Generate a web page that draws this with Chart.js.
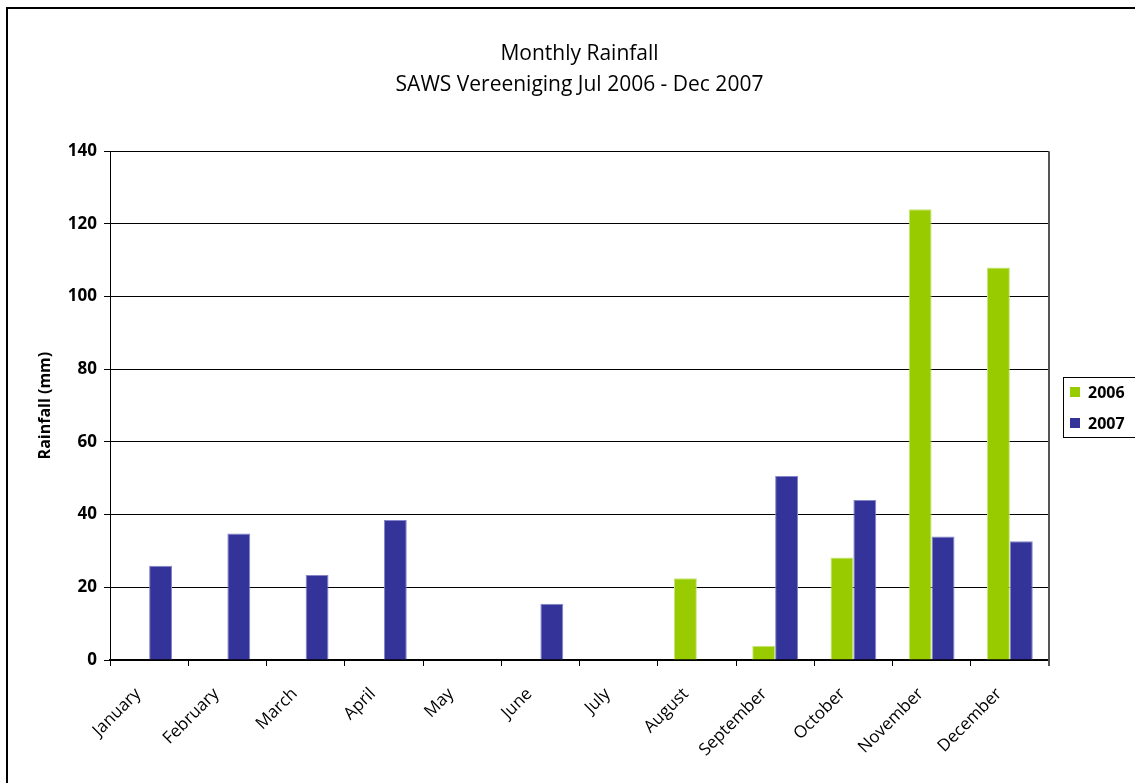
<!DOCTYPE html>
<html>
<head>
<meta charset="utf-8">
<script src="https://cdn.jsdelivr.net/npm/chart.js@4/dist/chart.umd.min.js"></script>
<style>
    html, body { margin: 0; padding: 0; background: #fff; }
    body { width: 1135px; height: 783px; position: relative; overflow: hidden; }
    #frame { position: absolute; left: 6px; top: 7px; width: 1140px; height: 800px; border: 2px solid #000; box-sizing: border-box; }
    #wrap { position: absolute; left: 0; top: 0; width: 1135px; height: 783px; }
</style>
</head>
<body>
<div id="frame"></div>
<div id="wrap"><canvas id="grafico"></canvas></div>
<script>
const meses = ['January', 'February', 'March', 'April', 'May', 'June', 'July', 'August', 'September', 'October', 'November', 'December'];
const chuva2006 = [null, null, null, null, null, null, 0, 22.5, 3.9, 28.2, 124, 108];
const chuva2007 = [25.9, 34.8, 23.4, 38.5, 0, 15.5, 0, 0, 50.6, 44, 34, 32.7];
const ticksY = [0, 20, 40, 60, 80, 100, 120, 140];

const fonte = "'Open Sans', 'Liberation Sans', sans-serif";

// legenda desenhada à mão, no estilo do Excel
const legendaCaixa = {
    id: 'legendaCaixa',
    afterDraw(chart) {
        const ctx = chart.ctx;
        const area = chart.chartArea;
        const x = area.right + 14;
        const y = 377;
        const w = 72, h = 60;
        ctx.save();
        // borda direita da área do gráfico
        ctx.strokeStyle = '#555';
        ctx.lineWidth = 2;
        ctx.beginPath();
        ctx.moveTo(area.right, area.top);
        ctx.lineTo(area.right, area.bottom + 6);
        ctx.stroke();

        ctx.strokeStyle = '#000';
        ctx.lineWidth = 1;
        ctx.strokeRect(x + 0.5, y + 0.5, w, h);
        ctx.font = 'bold 16px ' + fonte;
        ctx.textBaseline = 'middle';
        chart.data.datasets.forEach((ds, i) => {
            const cy = y + 15 + i * 31;
            ctx.fillStyle = ds.backgroundColor;
            ctx.fillRect(x + 7, cy - 5, 10, 10);
            ctx.fillStyle = '#000';
            ctx.fillText(ds.label, x + 25, cy + 1);
        });
        ctx.restore();
    }
};

new Chart(document.getElementById('grafico'), {
    type: 'bar',
    data: {
        labels: meses,
        datasets: [
            {
                label: '2006',
                data: chuva2006,
                backgroundColor: '#99cc00',
                borderColor: '#c8e67a',
                borderWidth: 1
            },
            {
                label: '2007',
                data: chuva2007,
                backgroundColor: '#333399',
                borderColor: '#8585c8',
                borderWidth: 1
            }
        ]
    },
    options: {
        responsive: true,
        maintainAspectRatio: false,
        animation: false,
        layout: { padding: { top: 0, right: 86, bottom: 0, left: 0 } },
        plugins: {
            legend: { display: false },
            tooltip: { enabled: false },
            title: {
                display: true,
                fullSize: false,
                text: ['Monthly Rainfall', 'SAWS Vereeniging Jul 2006 - Dec 2007'],
                color: '#000',
                font: { family: fonte, size: 21, weight: 'normal', lineHeight: 1.48 },
                padding: { top: 38, bottom: 51 }
            }
        },
        datasets: {
            bar: { categoryPercentage: 0.585, barPercentage: 1.0 }
        },
        scales: {
            x: {
                grid: { display: true, drawOnChartArea: false, drawTicks: true, tickLength: 6, color: '#000', offset: true },
                border: { color: '#000', width: 2 },
                ticks: {
                    color: '#000',
                    font: { family: fonte, size: 17 },
                    minRotation: 45,
                    maxRotation: 45,
                    padding: 18,
                    labelOffset: -11
                },
                afterFit: function(scale) { scale.height = 123; }
            },
            y: {
                min: 0,
                max: 140,
                afterBuildTicks: function(scale) { scale.ticks = ticksY.map(v => ({ value: v })); },
                grid: { color: '#000', lineWidth: 1, tickLength: 6 },
                border: { color: '#000', width: 1 },
                ticks: {
                    color: '#000',
                    font: { family: fonte, size: 17, weight: 'bold' },
                    padding: 7
                },
                title: {
                    display: true,
                    text: 'Rainfall (mm)',
                    color: '#000',
                    font: { family: fonte, size: 16, weight: 'bold' },
                    padding: { top: 36, bottom: 0 }
                },
                afterFit: function(scale) { scale.width = 110; }
            }
        }
    },
    plugins: [legendaCaixa]
});
</script>
</body>
</html>
